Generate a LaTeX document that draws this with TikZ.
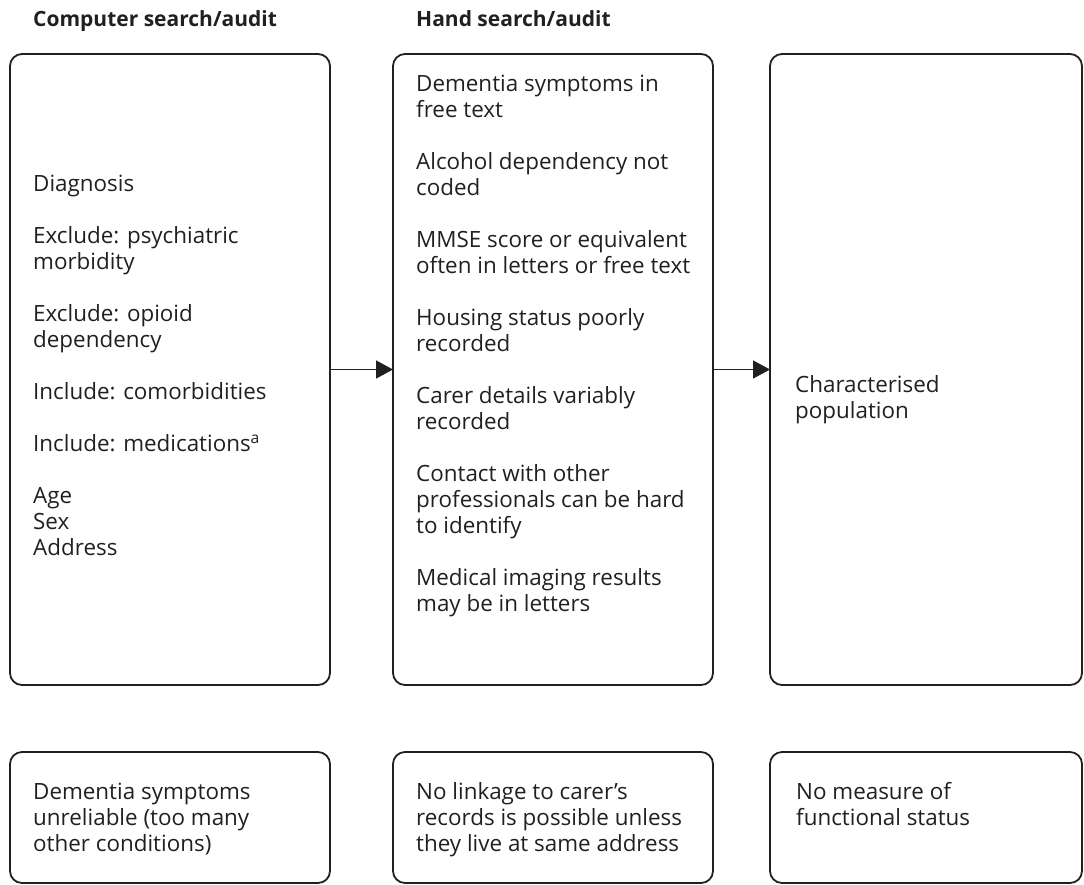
\documentclass[tikz,border=0pt]{standalone}
\usepackage{fontspec}
\setmainfont{Open Sans}
\usetikzlibrary{arrows.meta}
\definecolor{ink}{HTML}{231F20}
\tikzset{
  box/.style={draw=ink, line width=1.8pt, rounded corners=12pt, inner sep=0pt, outer sep=0pt},
  txt/.style={anchor=base west, align=left, inner sep=0pt, text=ink, font=\fontsize{22.4}{26}\selectfont},
  head/.style={anchor=base west, inner sep=0pt, text=ink, font=\fontsize{21}{26}\selectfont\bfseries},
  arr/.style={draw=ink, line width=1.5pt, -{Triangle[length=17pt,width=18pt]}}
}
\begin{document}
\begin{tikzpicture}[x=1pt,y=-1pt]
\useasboundingbox (0,0) rectangle (1084,884);
% headings
\node[head] (h1) at (33,26.5) {Computer search/audit};
\node[head] (h2) at (416,26.5) {Hand search/audit};
% main boxes
\node[box, minimum width=320pt, minimum height=631pt] (b1) at (170,369.5) {};
\node[box, minimum width=320pt, minimum height=631pt] (b2) at (553,369.5) {};
\node[box, minimum width=312pt, minimum height=631pt] (b3) at (926,369.5) {};
% bottom boxes
\node[box, minimum width=320pt, minimum height=131pt] (c1) at (170,817.5) {};
\node[box, minimum width=320pt, minimum height=131pt] (c2) at (553,817.5) {};
\node[box, minimum width=312pt, minimum height=131pt] (c3) at (926,817.5) {};
% texts (anchor = baseline of the last line)
\node[txt] (t1) at (33,555) {Diagnosis\\[26pt]Exclude: psychiatric\\morbidity\\[26pt]Exclude: opioid\\dependency\\[26pt]Include: comorbidities\\[26pt]Include: medications\textsuperscript{a}\\[26pt]Age\\Sex\\Address};
\node[txt] (t2) at (416,611) {Dementia symptoms in\\free text\\[26pt]Alcohol dependency not\\coded\\[26pt]MMSE score or equivalent\\often in letters or free text\\[26pt]Housing status poorly\\recorded\\[26pt]Carer details variably\\recorded\\[26pt]Contact with other\\professionals can be hard\\to identify\\[26pt]Medical imaging results\\may be in letters};
\node[txt] (t3) at (795,418) {Characterised\\population};
\node[txt] (u1) at (33,851) {Dementia symptoms\\unreliable (too many\\other conditions)};
\node[txt] (u2) at (416,851) {No linkage to carer’s\\records is possible unless\\they live at same address};
\node[txt] (u3) at (796,825) {No measure of\\functional status};
% arrows
\draw[arr] (b1.east) -- (b2.west);
\draw[arr] (b2.east) -- (b3.west);
\end{tikzpicture}
\end{document}
